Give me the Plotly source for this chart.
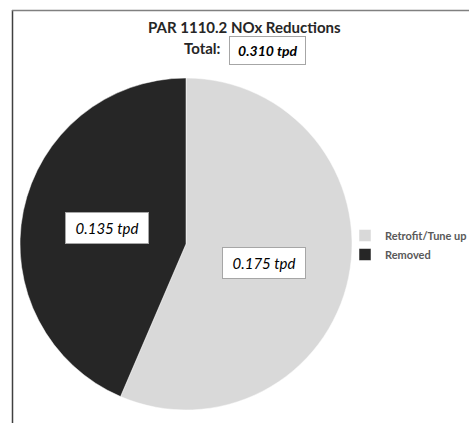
import plotly.graph_objects as go

labels = ["Retrofit/Tune up", "Removed"]
values = [0.175, 0.135]
colors = ["#d9d9d9", "#262626"]
title_text = "PAR 1110.2 NOx Reductions"

W, H = 469, 423
def px(x): return x / W
def py(y): return 1 - y / H

fig = go.Figure()
fig.add_trace(go.Pie(
    labels=labels, values=values, sort=False, direction="clockwise", rotation=0,
    marker=dict(colors=colors, line=dict(color="#ffffff", width=0.5)),
    textinfo="none", hoverinfo="label+value",
    domain=dict(x=[px(20), px(352)], y=[py(410), py(78)]),
))

font = "Lato, 'Open Sans', sans-serif"
ann = []
ann.append(dict(x=px(244), y=py(27), xref="paper", yref="paper", text="<b>" + title_text + "</b>",
                showarrow=False, font=dict(family=font, size=15, color="#262626"), xanchor="center", yanchor="middle"))
ann.append(dict(x=px(223), y=py(48), xref="paper", yref="paper", text="<b>Total:</b>",
                showarrow=False, font=dict(family=font, size=15, color="#262626"), xanchor="right", yanchor="middle"))
ann.append(dict(x=px(267), y=py(51), xref="paper", yref="paper", text="<b><i>&nbsp;%.3f tpd&nbsp;</i></b>" % sum(values),
                showarrow=False, font=dict(family=font, size=14, color="#000000"), xanchor="center", yanchor="middle",
                bordercolor="#a6a6a6", borderwidth=1, bgcolor="#ffffff", borderpad=5))
label_pos = {"Removed": (107, 228), "Retrofit/Tune up": (264, 263)}
for lab, v in zip(labels, values):
    x, y = label_pos[lab]
    ann.append(dict(x=px(x), y=py(y), xref="paper", yref="paper", text="<i>&nbsp;%.3f tpd&nbsp;</i>" % v,
                    showarrow=False, font=dict(family=font, size=15, color="#000000"), xanchor="center", yanchor="middle",
                    bordercolor="#a6a6a6", borderwidth=1, bgcolor="#ffffff", borderpad=6))

shapes = [
    dict(type="line", xref="paper", yref="paper", x0=px(12.5), x1=px(12.5), y0=py(10), y1=py(423),
         line=dict(color="#404040", width=1.5)),
    dict(type="line", xref="paper", yref="paper", x0=px(12), x1=px(469), y0=py(10.5), y1=py(10.5),
         line=dict(color="#808080", width=1.5)),
]

fig.update_layout(
    width=W, height=H, margin=dict(l=0, r=0, t=0, b=0, autoexpand=False),
    paper_bgcolor="#ffffff", plot_bgcolor="#ffffff",
    annotations=ann, shapes=shapes,
    showlegend=True,
    legend=dict(x=px(345), y=py(245), xanchor="left", yanchor="middle",
                font=dict(family=font, size=11, color="#595959", weight="bold"),
                itemwidth=30, tracegroupgap=0, bgcolor="rgba(0,0,0,0)"),
)
fig.write_html("out.html")
